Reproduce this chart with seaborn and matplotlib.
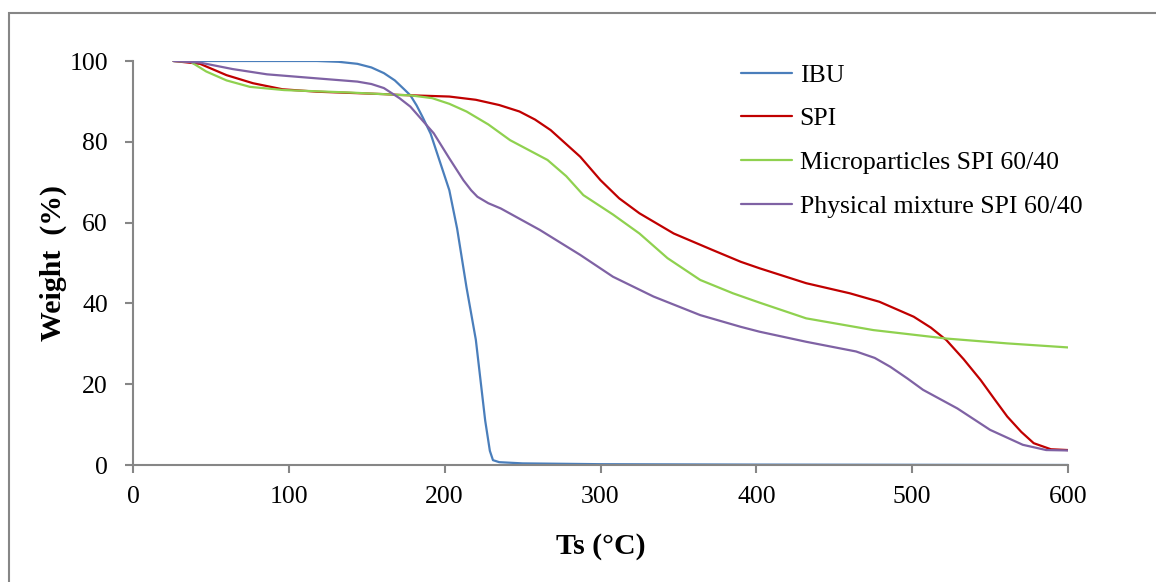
import matplotlib
matplotlib.use('Agg')
import matplotlib.pyplot as plt
from matplotlib.patches import Rectangle
import pandas as pd
import seaborn as sns

# TGA curves
ibu_t = [26, 60, 100, 118, 132, 144, 153, 161, 168, 174, 178, 182, 186, 191, 197, 203, 208, 214, 220, 223, 226, 229, 231, 235, 250, 300, 400, 500, 600]
ibu_w = [100, 100, 100, 100, 99.8, 99.3, 98.4, 97, 95.2, 93, 91.5, 89, 86, 82, 75, 68, 58.5, 44, 31, 21, 11, 3.5, 1.2, 0.7, 0.4, 0.2, 0.1, 0.05, 0]

spi_t = [26, 43, 60, 77, 96, 118, 161, 171, 203, 220, 235, 248, 258, 268, 287, 300, 312, 325, 347, 372, 390, 402, 432, 460, 479, 501, 512, 522, 533, 544, 553, 561, 570, 578, 589, 600]
spi_w = [100, 99.3, 96.5, 94.5, 93, 92.4, 91.8, 91.6, 91.2, 90.4, 89.1, 87.5, 85.5, 82.9, 76.3, 70.5, 66, 62.3, 57.3, 53.2, 50.3, 48.7, 45, 42.5, 40.4, 36.7, 34, 30.9, 26.2, 21, 16.2, 12, 8.2, 5.4, 3.9, 3.7]

micro_t = [26, 37, 47, 60, 75, 97, 139, 171, 178, 192, 203, 214, 228, 242, 266, 278, 289, 308, 325, 343, 364, 385, 402, 432, 475, 522, 561, 600]
micro_w = [100, 99.8, 97.4, 95.2, 93.6, 92.8, 92.2, 91.6, 91.5, 90.8, 89.4, 87.5, 84.3, 80.4, 75.5, 71.5, 66.8, 62, 57.3, 51.2, 45.8, 42.5, 40.2, 36.3, 33.4, 31.3, 30.1, 29.1]

mix_t = [26, 43, 64, 86, 118, 144, 153, 161, 171, 178, 193, 203, 212, 217, 221, 228, 236, 261, 287, 308, 334, 364, 390, 402, 432, 464, 476, 486, 497, 507, 529, 550, 571, 586, 600]
mix_w = [100, 99.6, 98, 96.7, 95.7, 94.9, 94.3, 93.3, 90.8, 88.7, 82.1, 75.9, 70.5, 68, 66.4, 64.8, 63.5, 58.2, 52, 46.6, 41.7, 37.1, 34.2, 33, 30.5, 28.1, 26.5, 24.3, 21.4, 18.6, 14, 8.7, 5, 3.7, 3.6]

labels = ['IBU', 'SPI', 'Microparticles SPI 60/40', 'Physical mixture SPI 60/40']
colors = ['#4a7ebb', '#c00000', '#8fd14f', '#7f62a4']

frames = []
for lab, t, w in zip(labels, [ibu_t, spi_t, micro_t, mix_t], [ibu_w, spi_w, micro_w, mix_w]):
    frames.append(pd.DataFrame({'T': t, 'W': w, 'sample': lab}))
df = pd.concat(frames, ignore_index=True)

sns.set_style('white')
plt.rcParams['font.family'] = ['Liberation Serif', 'DejaVu Serif']
plt.rcParams['text.color'] = 'black'
plt.rcParams['axes.labelcolor'] = 'black'

fig = plt.figure(figsize=(11.56, 5.82), dpi=100)
ax = fig.add_axes([133 / 1156, 117 / 582, 935 / 1156, 404 / 582])

sns.lineplot(data=df, x='T', y='W', hue='sample', hue_order=labels,
             palette=dict(zip(labels, colors)), estimator=None, sort=False,
             linewidth=1.6, ax=ax)

ax.set_xlim(0, 600)
ax.set_ylim(0, 100)
ax.set_xticks(range(0, 601, 100))
ax.set_yticks(range(0, 101, 20))

for side in ['top', 'right']:
    ax.spines[side].set_visible(False)
for side in ['left', 'bottom']:
    ax.spines[side].set_color('#868686')
    ax.spines[side].set_linewidth(1.5)
ax.tick_params(axis='both', bottom=True, left=True, direction='out', length=6,
               width=1.5, color='#868686', labelsize=18.5, labelcolor='black')
ax.tick_params(axis='y', pad=12)
ax.tick_params(axis='x', pad=9)

ax.set_xlabel('Ts (°C)', fontsize=21.5, fontweight='bold', labelpad=18)
ax.set_ylabel('Weight  (%)', fontsize=21.5, fontweight='bold', labelpad=2)

leg = ax.legend(frameon=False, fontsize=18.5, loc='upper left',
                bbox_to_anchor=(0.625, 1.05), handlelength=2.0,
                handletextpad=0.3, labelspacing=0.8)
for line in leg.get_lines():
    line.set_linewidth(1.6)

# outer chart border (gray), runs off the right and bottom edges
fig.patches.append(Rectangle((9 / 1156, -0.05), 1.1, 1 - 13 / 582 + 0.05,
                             transform=fig.transFigure, fill=False,
                             edgecolor='#868686', linewidth=1.5))

fig.savefig('out.png', dpi=100)
